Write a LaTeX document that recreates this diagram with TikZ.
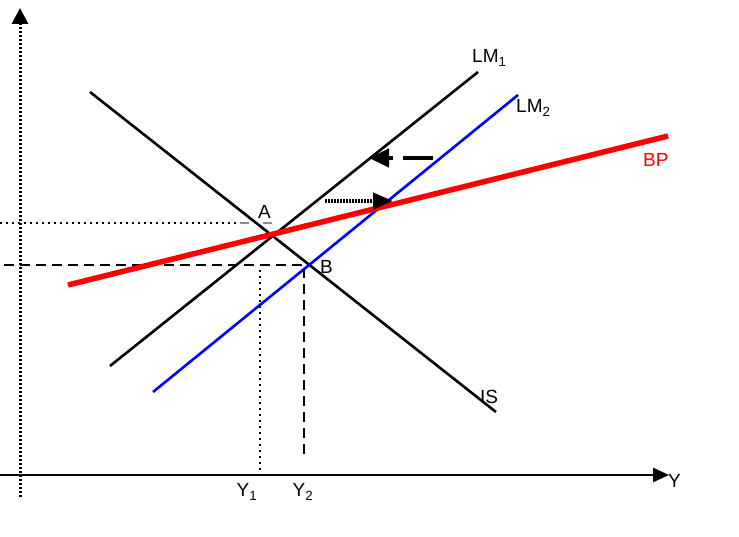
\documentclass[tikz,border=0pt]{standalone}
\usepackage{fontspec}
\setsansfont{Liberation Sans}
\usetikzlibrary{arrows.meta}
\definecolor{cBP}{RGB}{255, 0, 0}
\definecolor{cLMTwo}{RGB}{0, 0, 255}
\colorlet{cGuide}{black!45!white}
\tikzset{
    axisX/.style={
        line width=2.5,
        arrows={-Triangle[length=16,width=14]}
    },
    axisY/.style={
        line width=3,
        dash pattern=on 2 off 2,
        arrows={-Triangle[length=16,width=16]}
    },
    curveIS/.style={
        line width=2.6,
        color=black
    },
    curveLMOne/.style={
        line width=2.6,
        color=black
    },
    curveLMTwo/.style={
        line width=2.6,
        color=cLMTwo
    },
    curveBP/.style={
        line width=5.5,
        color=cBP
    },
    guideDotted/.style={
        line width=1.2,
        dash pattern=on 2 off 4
    },
    guideDashed/.style={
        line width=1.2,
        dash pattern=on 10 off 6
    },
    shiftLeft/.style={
        line width=4.5,
        dash pattern=on 30 off 10,
        arrows={-Triangle[length=20,width=18]}
    },
    shiftRight/.style={
        line width=4.5,
        dash pattern=on 1.5 off 1.5,
        arrows={-Triangle[length=20,width=16]}
    },
    lbl/.style={
        font=\sffamily\fontsize{19}{21}\selectfont,
        inner sep=0
    },
}

\begin{document}
\begin{tikzpicture}[x=1pt,y=-1pt]
    \useasboundingbox (0,0) rectangle (739,537);

    % axes
    \coordinate (yBot) at (20,497);
    \coordinate (yTop) at (20,8);
    \coordinate (xLeft) at (0,475);
    \coordinate (xRight) at (669,475);
    \draw[axisY] (yBot) -- (yTop);
    \draw[axisX] (xLeft) -- (xRight);
    \node[lbl,anchor=west] (lY) at (668,481) {$\mathsf{Y}$};

    % curves
    \coordinate (is1) at (90,92);
    \coordinate (is2) at (496,412);
    \coordinate (lmOne1) at (110,366);
    \coordinate (lmOne2) at (478,72);
    \coordinate (lmTwo1) at (153,392);
    \coordinate (lmTwo2) at (518,95);
    \coordinate (bp1) at (68,285);
    \coordinate (bp2) at (668,136);

    \coordinate (ptA) at (272,234);
    \coordinate (ptB) at (310,265);

    % guide lines
    \coordinate (hA) at (0,223);
    \coordinate (hAend) at (240,223);
    \coordinate (hAgray) at (284,223);
    \coordinate (hB) at (4,265);
    \coordinate (vA) at (260,472);
    \coordinate (vAtop) at (260,270);
    \coordinate (vB) at (304,460);
    \coordinate (vBtop) at (304,268);
    \draw[guideDotted] (hA) -- (hAend);
    \draw[cGuide,line width=2.5,dash pattern=on 9 off 14] (hAend) -- (hAgray);
    \draw[guideDashed] (hB) -- (ptB);
    \draw[guideDotted] (vAtop) -- (vA);
    \draw[guideDashed] (vBtop) -- (vB);

    \draw[curveIS] (is1) -- (is2);
    \draw[curveLMOne] (lmOne1) -- (lmOne2);
    \draw[curveLMTwo] (lmTwo1) -- (lmTwo2);
    \draw[curveBP] (bp1) -- (bp2);

    % shifts
    \coordinate (sL1) at (433,158);
    \coordinate (sL2) at (369,158);
    \coordinate (sR1) at (325,201);
    \coordinate (sR2) at (393,201);
    \draw[shiftLeft] (sL1) -- (sL2);
    \draw[shiftRight] (sR1) -- (sR2);

    % labels
    \node[lbl,anchor=south west] (lA) at (258,219) {$\mathsf{A}$};
    \node[lbl,anchor=west] (lB) at (320,267) {$\mathsf{B}$};
    \node[lbl,anchor=west] (lLMOne) at (472,58) {LM$_{\mathsf{1}}$};
    \node[lbl,anchor=west] (lLMTwo) at (516,108) {LM$_{\mathsf{2}}$};
    \node[lbl,anchor=west,color=cBP] (lBP) at (643,160) {BP};
    \node[lbl,anchor=west] (lIS) at (480,397) {IS};
    \node[lbl] (lY1) at (247,492) {Y$_{\mathsf{1}}$};
    \node[lbl] (lY2) at (303,492) {Y$_{\mathsf{2}}$};
\end{tikzpicture}
\end{document}
